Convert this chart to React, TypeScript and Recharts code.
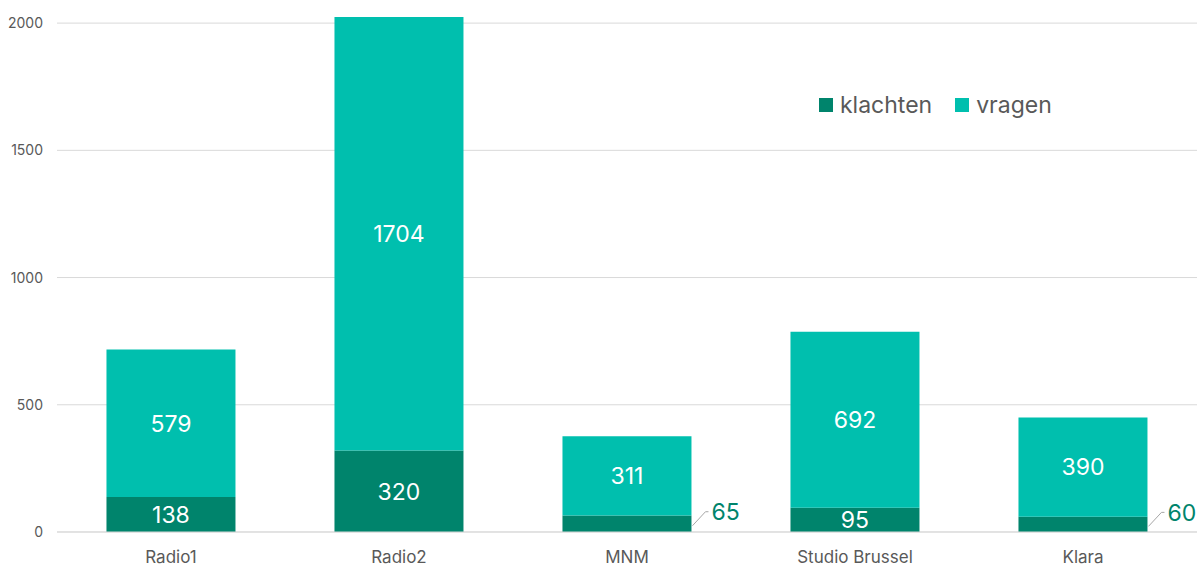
import { BarChart, Bar, XAxis, YAxis, CartesianGrid, LabelList } from 'recharts';

const zenders = ['Radio1', 'Radio2', 'MNM', 'Studio Brussel', 'Klara'];
const klachten = [138, 320, 65, 95, 60];
const vragen = [579, 1704, 311, 692, 390];
const yTicks = [0, 500, 1000, 1500, 2000];

const DARK = '#00846c';
const LIGHT = '#00bfae';
const FONT = 'Inter, "Noto Sans", sans-serif';

const data = zenders.map((naam, i) => ({ naam, klachten: klachten[i], vragen: vragen[i] }));

function KlachtenLabel(props: any) {
  const { x, y, width, height, value } = props;
  if (height >= 20) {
    return (
      <text x={x + width / 2} y={y + height / 2} dy="0.36em" textAnchor="middle" fill="#fff" fontSize={23} fontFamily={FONT}>
        {value}
      </text>
    );
  }
  const x0 = x + width + 1;
  const y0 = y + height / 2 + 2;
  return (
    <g>
      <polyline points={`${x0},${y0} ${x0 + 13},${y0 - 14} ${x0 + 16},${y0 - 14}`} fill="none" stroke="#a6a6a6" strokeWidth={1} />
      <text x={x0 + 19} y={y0 - 14} dy="0.36em" textAnchor="start" fill={DARK} fontSize={23} fontFamily={FONT}>
        {value}
      </text>
    </g>
  );
}

function VragenLabel(props: any) {
  const { x, y, width, height, value } = props;
  return (
    <text x={x + width / 2} y={y + height / 2} dy="0.36em" textAnchor="middle" fill="#fff" fontSize={23} fontFamily={FONT}>
      {value}
    </text>
  );
}

const legendItems = [
  { label: 'klachten', color: DARK },
  { label: 'vragen', color: LIGHT },
];

export default function App() {
  return (
    <div style={{ position: 'absolute', left: 0, top: 0, width: 1197, height: 568, background: '#fff' }}>
      <BarChart width={1197} height={568} data={data} margin={{ top: 17, right: 0, left: 0, bottom: 0 }} barCategoryGap="21.7%">
        <CartesianGrid vertical={false} stroke="#d9d9d9" syncWithTicks />
        <XAxis
          dataKey="naam"
          height={36}
          tickLine={false}
          axisLine={{ stroke: '#d9d9d9' }}
          tickMargin={13}
          tick={{ fontSize: 17, fill: '#595959', fontFamily: FONT }}
        />
        <YAxis
          width={57}
          domain={[0, 2024]}
          ticks={yTicks}
          tickLine={false}
          axisLine={false}
          tickMargin={8}
          tick={{ fontSize: 14, fill: '#595959', fontFamily: FONT }}
        />
        <Bar dataKey="klachten" stackId="a" fill={DARK} isAnimationActive={false}>
          <LabelList dataKey="klachten" content={<KlachtenLabel />} />
        </Bar>
        <Bar dataKey="vragen" stackId="a" fill={LIGHT} isAnimationActive={false}>
          <LabelList dataKey="vragen" content={<VragenLabel />} />
        </Bar>
      </BarChart>
      <div style={{ position: 'absolute', top: 91, left: 819, display: 'flex', gap: 23, fontFamily: FONT, fontSize: 23, color: '#595959' }}>
        {legendItems.map((it) => (
          <div key={it.label} style={{ display: 'flex', alignItems: 'center', gap: 7 }}>
            <span style={{ width: 14, height: 14, background: it.color, display: 'inline-block' }} />
            <span>{it.label}</span>
          </div>
        ))}
      </div>
    </div>
  );
}
